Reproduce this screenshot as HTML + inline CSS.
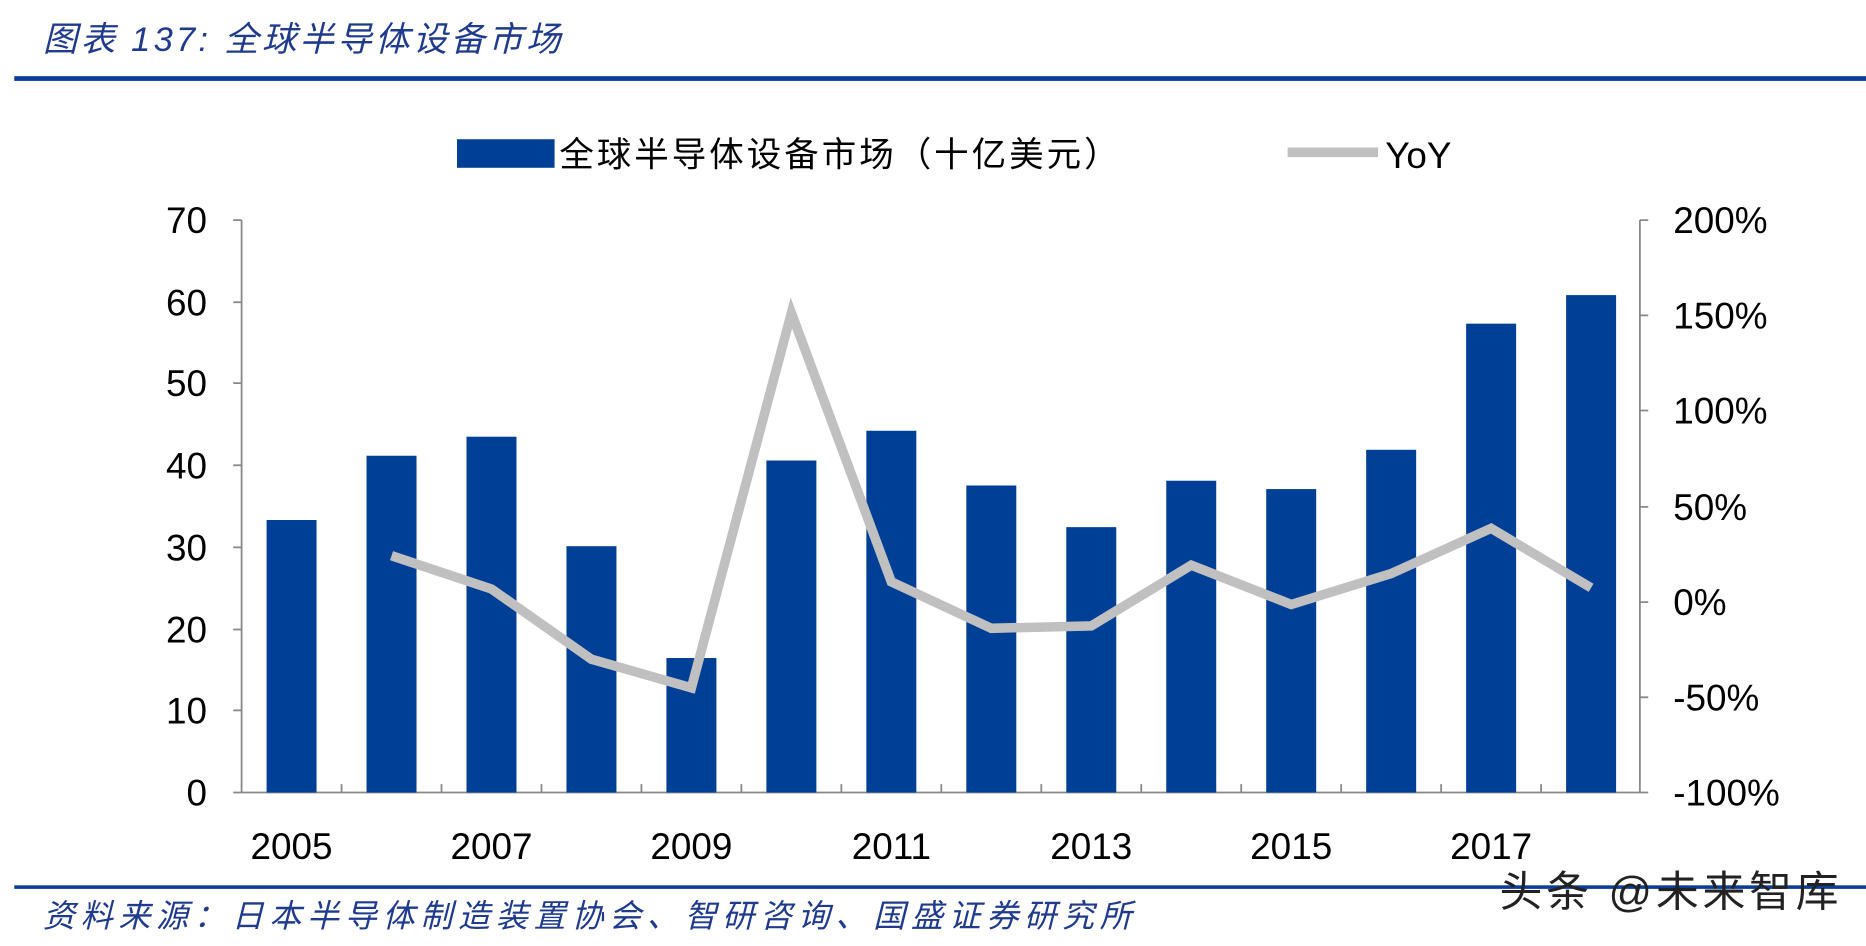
<!DOCTYPE html>
<html><head><meta charset="utf-8"><style>html,body{margin:0;padding:0;background:#fff}svg{display:block}</style></head><body>
<svg width="1866" height="946" viewBox="0 0 1568 795" preserveAspectRatio="none" xmlns="http://www.w3.org/2000/svg" font-family="'Liberation Sans','Noto Sans CJK SC',sans-serif">
<text x="36" y="43" font-size="29" font-style="italic" fill="#1f3a8f" textLength="435">图表 137:  全球半导体设备市场</text>
<rect x="12" y="64" width="1556" height="4" fill="#0a3d9a"/>
<rect x="384" y="117" width="82" height="24" fill="#003f96"/>
<text x="470" y="140" font-size="29" fill="#000" textLength="470">全球半导体设备市场（十亿美元）</text>
<line x1="1082" y1="128" x2="1158" y2="128" stroke="#c0c0c0" stroke-width="8"/>
<text x="1164" y="141" font-size="31" fill="#000">YoY</text>
<g stroke="#888" stroke-width="1.5" fill="none">
<line x1="203" y1="185" x2="203" y2="666"/><line x1="1378" y1="185" x2="1378" y2="666"/><line x1="203" y1="666" x2="1378" y2="666"/>
<path d="M196 185H203M196 254H203M196 322H203M196 391H203M196 460H203M196 529H203M196 597H203M196 666H203"/>
<path d="M1378 185H1385M1378 265H1385M1378 345H1385M1378 426H1385M1378 506H1385M1378 586H1385M1378 666H1385"/>
<path d="M287 666V659M371 666V659M455 666V659M539 666V659M623 666V659M707 666V659M791 666V659M875 666V659M959 666V659M1043 666V659M1127 666V659M1211 666V659M1295 666V659"/>
</g>
<g fill="#003f96">
<rect x="224" y="437" width="42" height="229"/>
<rect x="308" y="383" width="42" height="283"/>
<rect x="392" y="367" width="42" height="299"/>
<rect x="476" y="459" width="42" height="207"/>
<rect x="560" y="553" width="42" height="113"/>
<rect x="644" y="387" width="42" height="279"/>
<rect x="728" y="362" width="42" height="304"/>
<rect x="812" y="408" width="42" height="258"/>
<rect x="896" y="443" width="42" height="223"/>
<rect x="980" y="404" width="42" height="262"/>
<rect x="1064" y="411" width="42" height="255"/>
<rect x="1148" y="378" width="42" height="288"/>
<rect x="1232" y="272" width="42" height="394"/>
<rect x="1316" y="248" width="42" height="418"/>
</g>
<polyline points="329,467 413,495 497,554 581,578 665,263 749,489 833,528 917,526 1001,475 1085,508 1169,482 1253,444 1337,494" fill="none" stroke="#c0c0c0" stroke-width="8" stroke-linejoin="miter"/>
<g font-size="31" fill="#000" text-anchor="end">
<text x="174" y="196">70</text><text x="174" y="265">60</text><text x="174" y="333">50</text><text x="174" y="402">40</text><text x="174" y="471">30</text><text x="174" y="540">20</text><text x="174" y="608">10</text><text x="174" y="677">0</text>
</g>
<g font-size="31" fill="#000">
<text x="1406" y="196">200%</text><text x="1406" y="276">150%</text><text x="1406" y="356">100%</text><text x="1406" y="437">50%</text><text x="1406" y="517">0%</text><text x="1406" y="597">-50%</text><text x="1406" y="677">-100%</text>
</g>
<g font-size="31" fill="#000" text-anchor="middle">
<text x="245" y="722">2005</text><text x="413" y="722">2007</text><text x="581" y="722">2009</text><text x="749" y="722">2011</text><text x="917" y="722">2013</text><text x="1085" y="722">2015</text><text x="1253" y="722">2017</text>
</g>
<rect x="12" y="744" width="1556" height="3" fill="#0a3d9a"/>
<text x="36" y="779" font-size="27" font-style="italic" fill="#1f3a8f" textLength="915">资料来源：日本半导体制造装置协会、智研咨询、国盛证券研究所</text>
<text x="1260" y="762" font-size="36" fill="#222" textLength="285">头条 @未来智库</text>
</svg>
</body></html>
